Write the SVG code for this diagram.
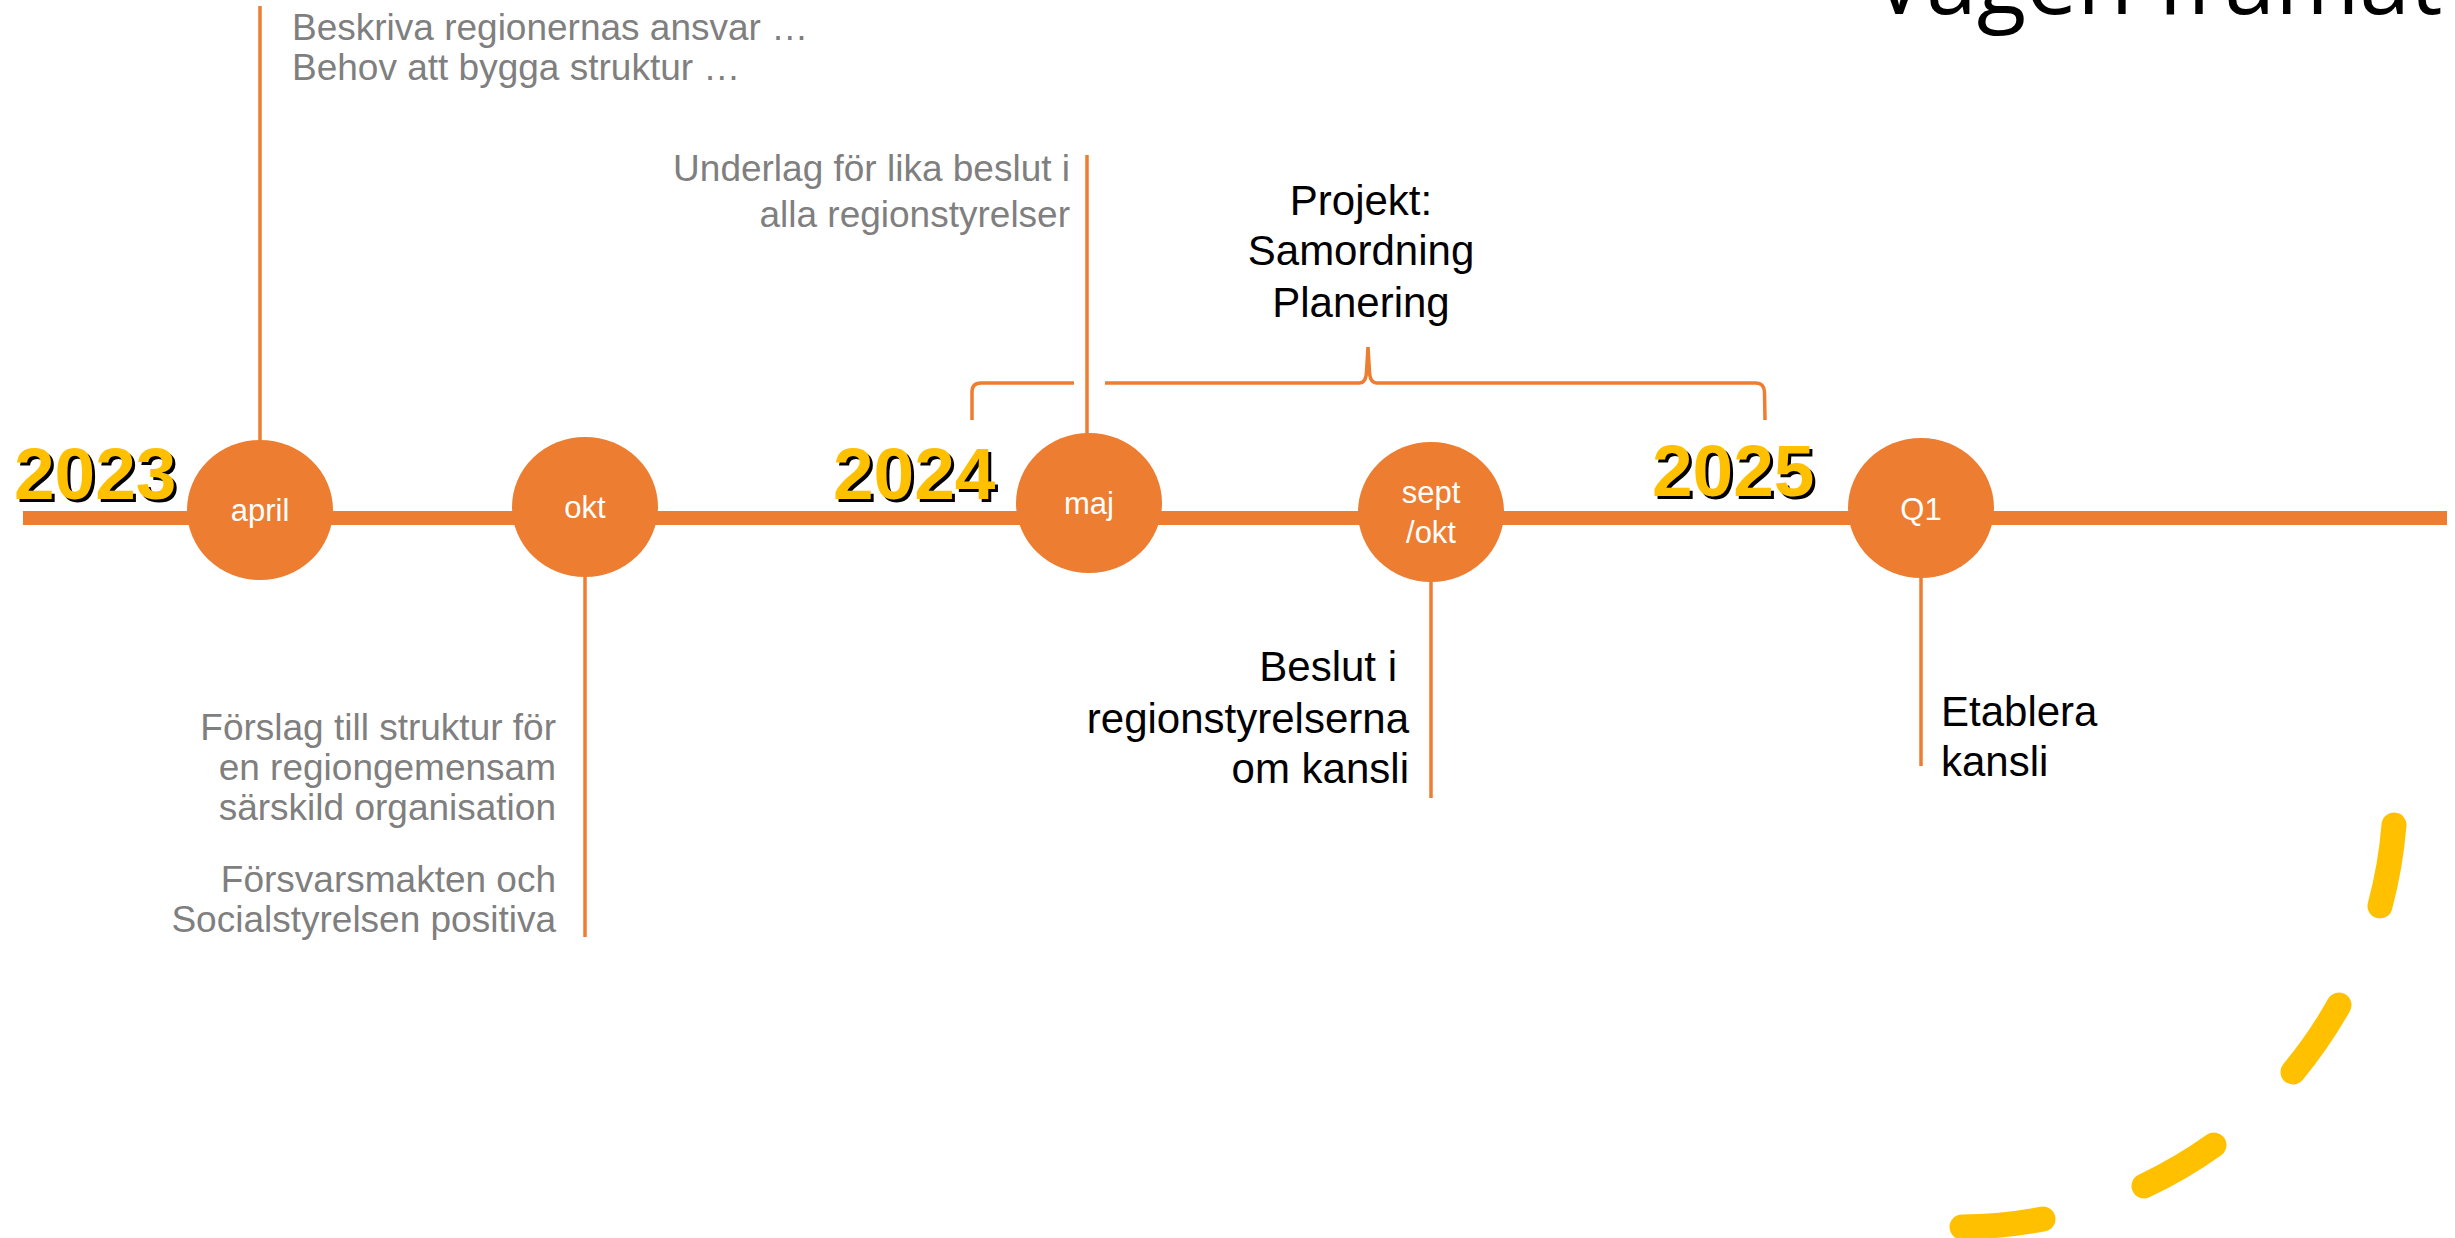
<svg xmlns="http://www.w3.org/2000/svg" width="2455" height="1238" viewBox="0 0 2455 1238">
<defs>
<style>
.bg{fill:#FFFFFF}
.axis{stroke:#ED7D31;stroke-width:14;fill:none;stroke-linecap:butt}
.node{fill:#ED7D31}
.nlabel{font-family:"Liberation Sans",Arial,sans-serif;font-size:31px;fill:#FFFFFF;text-anchor:middle}
.conn{stroke:#ED7D31;stroke-width:3.5;fill:none}
.year{font-family:"Liberation Sans",Arial,sans-serif;font-size:73px;font-weight:bold}
.yshadow{fill:#000000}
.yfill{fill:#FFC000}
.gray{font-family:"Liberation Sans",Arial,sans-serif;font-size:37px;fill:#7F7F7F}
.black{font-family:"Liberation Sans",Arial,sans-serif;font-size:42px;fill:#000000}
.title{font-family:"Open Sans","Noto Sans",sans-serif;font-size:91px;fill:#000000}
.dash{stroke:#FFC000;stroke-width:25;fill:none;stroke-linecap:round}
</style>
</defs>
<rect class="bg" x="0" y="0" width="2455" height="1238"/>

<g id="title">
<text class="title" x="1872" y="14">Vägen framåt</text>
</g>

<g id="timeline">
<path class="axis" d="M23 518 L2447 518"/>
</g>

<g id="connectors">
<line class="conn" x1="260" y1="6" x2="260" y2="442"/>
<line class="conn" x1="585" y1="576" x2="585" y2="937"/>
<line class="conn" x1="1087" y1="155" x2="1087" y2="435"/>
<line class="conn" x1="1431" y1="580" x2="1431" y2="798"/>
<line class="conn" x1="1921" y1="576" x2="1921" y2="766"/>
<path id="brace-left" class="conn" d="M972 420 L972 392 Q972 383 981 383 L1074 383"/>
<path id="brace-right" class="conn" d="M1105 383 L1359 383 Q1366 383 1366.5 372 L1368 347 L1369.5 372 Q1370 383 1377 383 L1756 383 Q1764 383 1764.5 392 L1765 420"/>
</g>

<g id="year-2023">
<text class="year yshadow" x="17" y="502">2023</text>
<text class="year yfill" x="14" y="499">2023</text>
</g>
<g id="year-2024">
<text class="year yshadow" x="836" y="502">2024</text>
<text class="year yfill" x="833" y="499">2024</text>
</g>
<g id="year-2025">
<text class="year yshadow" x="1655" y="499">2025</text>
<text class="year yfill" x="1652" y="496">2025</text>
</g>

<g id="node-april">
<ellipse class="node" cx="260" cy="510" rx="73" ry="70"/>
<text class="nlabel" x="260" y="521">april</text>
</g>
<g id="node-okt">
<ellipse class="node" cx="585" cy="507" rx="73" ry="70"/>
<text class="nlabel" x="585" y="518">okt</text>
</g>
<g id="node-maj">
<ellipse class="node" cx="1089" cy="503" rx="73" ry="70"/>
<text class="nlabel" x="1089" y="514">maj</text>
</g>
<g id="node-septokt">
<ellipse class="node" cx="1431" cy="512" rx="73" ry="70"/>
<text class="nlabel" x="1431" y="503">sept</text>
<text class="nlabel" x="1431" y="543">/okt</text>
</g>
<g id="node-q1">
<ellipse class="node" cx="1921" cy="508" rx="73" ry="70"/>
<text class="nlabel" x="1921" y="520">Q1</text>
</g>

<g id="note-april">
<text class="gray" x="292" y="40">Beskriva regionernas ansvar …</text>
<text class="gray" x="292" y="80">Behov att bygga struktur …</text>
</g>
<g id="note-okt" text-anchor="end">
<text class="gray" x="556" y="740">Förslag till struktur för</text>
<text class="gray" x="556" y="780">en regiongemensam</text>
<text class="gray" x="556" y="820">särskild organisation</text>
<text class="gray" x="556" y="892">Försvarsmakten och</text>
<text class="gray" x="556" y="932">Socialstyrelsen positiva</text>
</g>
<g id="note-maj" text-anchor="end">
<text class="gray" x="1070" y="181">Underlag för lika beslut i</text>
<text class="gray" x="1070" y="227">alla regionstyrelser</text>
</g>
<g id="note-projekt" text-anchor="middle">
<text class="black" x="1361" y="215">Projekt:</text>
<text class="black" x="1361" y="265">Samordning</text>
<text class="black" x="1361" y="317">Planering</text>
</g>
<g id="note-septokt" text-anchor="end">
<text class="black" x="1397" y="681">Beslut i</text>
<text class="black" x="1409" y="733">regionstyrelserna</text>
<text class="black" x="1409" y="783">om kansli</text>
</g>
<g id="note-q1">
<text class="black" x="1941" y="726">Etablera</text>
<text class="black" x="1941" y="776">kansli</text>
</g>

<g id="decor-arc">
<path class="dash" d="M2394 825 A455 455 0 0 1 2380 906"/>
<path class="dash" d="M2339 1005 A455 455 0 0 1 2293 1072"/>
<path class="dash" d="M2214 1145 A455 455 0 0 1 2144 1186"/>
<path class="dash" d="M2043 1219 A455 455 0 0 1 1962 1227"/>
</g>
</svg>
